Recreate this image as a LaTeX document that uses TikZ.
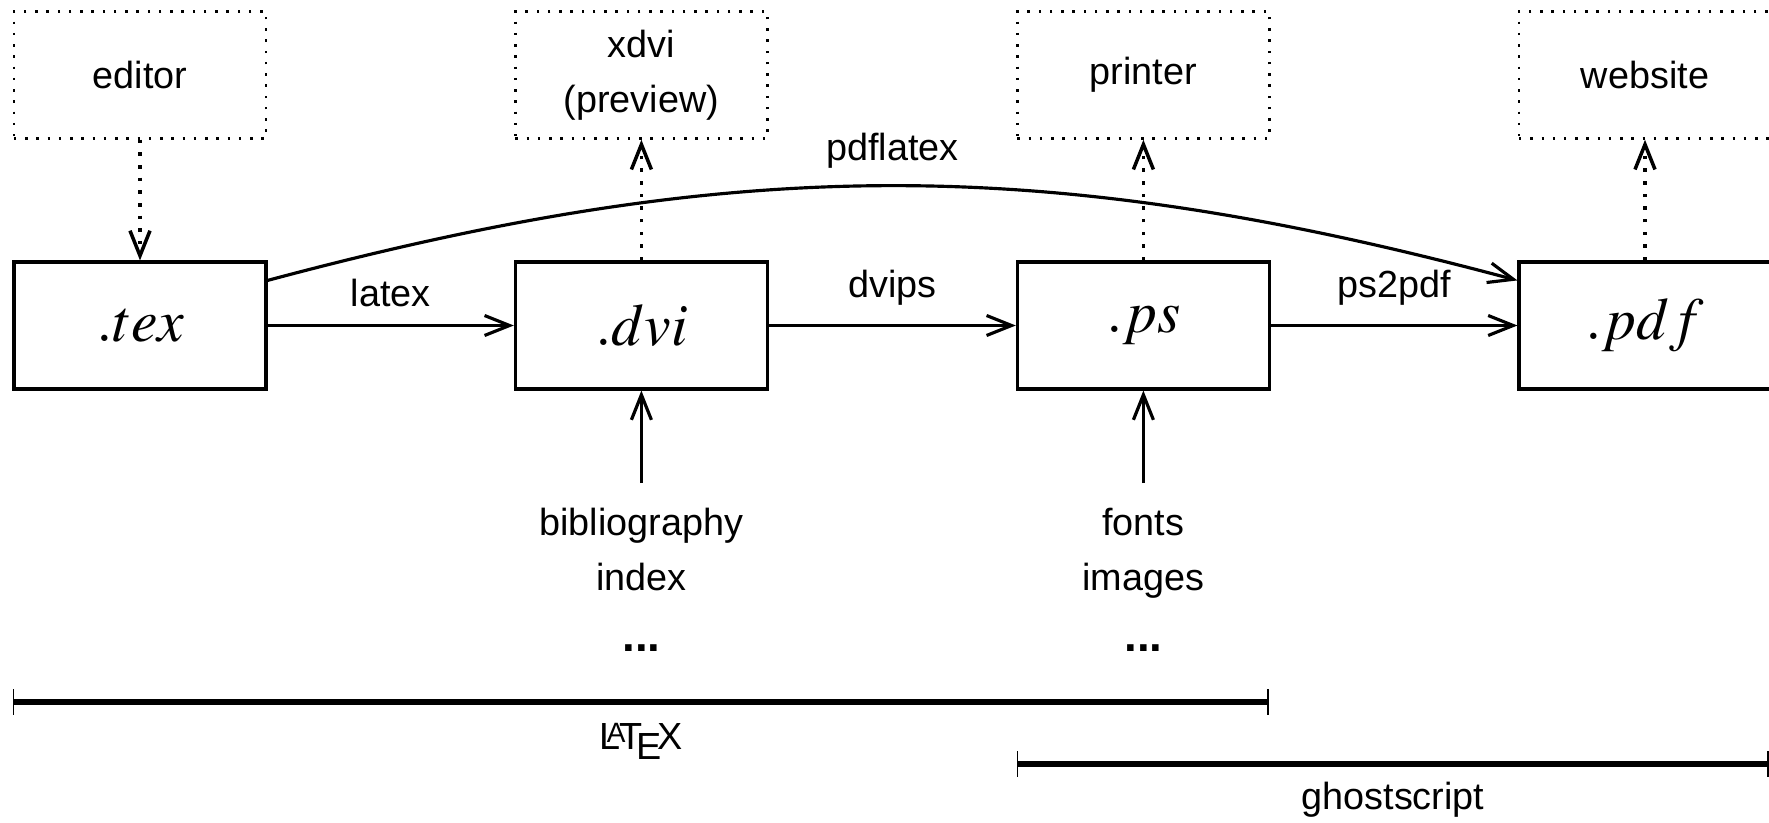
\documentclass[tikz,border=0pt]{standalone}
\usepackage{mathptmx}
\usepackage{fontspec}
\setmainfont{Liberation Sans}
\usetikzlibrary{arrows.meta}

\begin{document}
\begin{tikzpicture}[
  every node/.style={font=\fontsize{10.75}{15.5}\selectfont},
  file/.style={draw,line width=0.9pt,minimum width=2.52cm,minimum height=1.27cm,font=\fontsize{17}{17}\selectfont},
  tool/.style={draw,line width=0.7pt,dash pattern=on 0.7pt off 2.5pt,minimum width=2.52cm,minimum height=1.27cm,align=center},
  arr/.style={line width=0.9pt,-{Straight Barb[length=2.5mm,width=2mm]}},
  dotarr/.style={line width=1pt,dash pattern=on 1pt off 2.6pt,-{Straight Barb[length=2.5mm,width=2mm]}},
  extra/.style={align=center,anchor=north,inner ysep=7pt},
  bar/.style={line width=1.5pt},
  tick/.style={line width=0.5pt}]
\useasboundingbox (0,0) rectangle (17.69,-8.22);

\node[tool] (editor) at (1.40,-0.75) {editor};
\node[tool] (xdvi) at (6.414,-0.75) {xdvi\\(preview)};
\node[tool] (printer) at (11.434,-0.75) {printer};
\node[tool] (website) at (16.45,-0.75) {website};

\node[file] (tex) at (1.40,-3.255) {$.tex$};
\node[file] (dvi) at (6.414,-3.255) {$.dvi$};
\node[file] (ps) at (11.434,-3.255) {$.ps$};
\node[file] (pdf) at (16.45,-3.255) {$.pdf$};

\node[extra] (bib) at (6.414,-4.83) {bibliography\\index\\[2pt]{\fontsize{13}{15.5}\selectfont\bfseries ...}};
\node[extra] (fonts) at (11.434,-4.83) {fonts\\images\\[2pt]{\fontsize{13}{15.5}\selectfont\bfseries ...}};

\draw[dotarr] (editor) -- (tex);
\draw[dotarr] (dvi) -- (xdvi);
\draw[dotarr] (ps) -- (printer);
\draw[dotarr] (pdf) -- (website);

\draw[arr] (tex) -- node[above=1.5pt] (latexlbl) {latex} (dvi);
\draw[arr] (dvi) -- node[above=2pt] (dvipslbl) {dvips} (ps);
\draw[arr] (ps) -- node[above=2pt] (pspdflbl) {ps2pdf} (pdf);
\draw[arr] ([yshift=-2mm]tex.north east) to[bend left=15] node[above=1.2pt] (pdflatexlbl) {pdflatex} ([yshift=-2mm]pdf.north west);

\draw[arr] (bib) -- (dvi);
\draw[arr] (fonts) -- (ps);

\coordinate (la) at (0.135,-7.02);
\coordinate (lb) at (12.68,-7.02);
\coordinate (ga) at (10.176,-7.64);
\coordinate (gb) at (17.68,-7.64);
\draw[bar] (la) -- (lb);
\draw[bar] (ga) -- (gb);
\foreach \c in {la,lb,ga,gb}
  \draw[tick] ([yshift=1.3mm]\c) -- ([yshift=-1.3mm]\c);
\node (latexname) at (6.41,-7.41) {\LaTeX};
\node (gsname) at (13.93,-8.0) {ghostscript};
\end{tikzpicture}
\end{document}
